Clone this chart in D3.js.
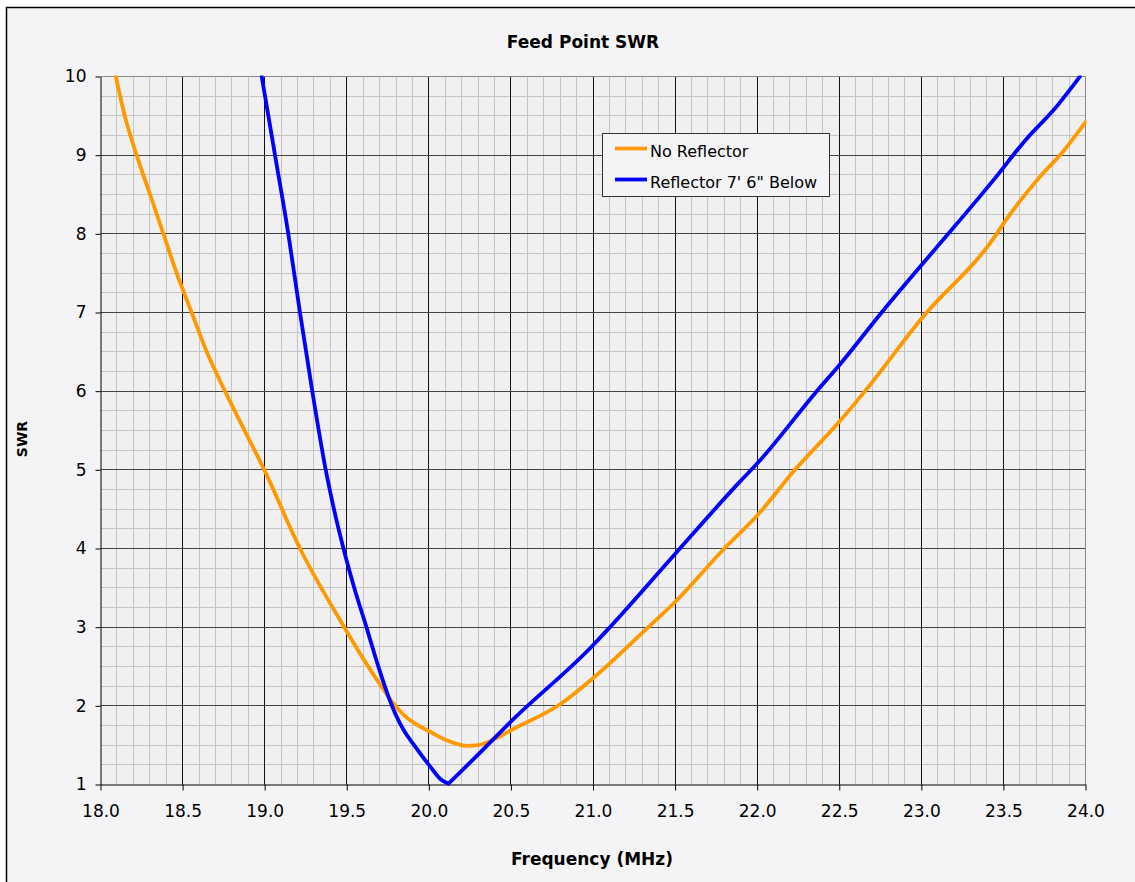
<!DOCTYPE html>
<meta charset="utf-8">
<style>
body { margin: 0; background: #fff; }
svg text { font-family: "DejaVu Sans", Verdana, sans-serif; fill: #000; }
</style>
<svg width="1135" height="882"></svg>
<script src="https://cdn.jsdelivr.net/npm/d3@7"></script>
<script>

// No Reflector (orange)
var freqNoRefl = [18.093, 18.149, 18.22, 18.302, 18.383, 18.464, 18.555, 18.647, 18.758, 18.87, 19.0,
  19.215, 19.485, 19.6, 19.713, 19.784, 19.85, 19.92, 20.007, 20.1, 20.23, 20.3, 20.413, 20.5, 20.8, 21.0,
  21.337, 21.5, 21.8, 22.0, 22.23, 22.5, 22.657, 23.0, 23.459, 23.5, 23.72, 23.865, 24.0];
var swrNoRefl = [10.0, 9.49, 9.0, 8.5, 8.0, 7.5, 7.0, 6.5, 6.0, 5.53, 4.99,
  4.0, 3.0, 2.6, 2.24, 2.03, 1.88, 1.77, 1.67, 1.57, 1.49, 1.5, 1.59, 1.69, 2.02, 2.35,
  3.0, 3.32, 4.0, 4.42, 5.0, 5.61, 6.0, 6.92, 8.0, 8.13, 8.72, 9.05, 9.42];

// Reflector 7' 6" Below (blue), dip at 20.12 MHz
var freqRefl = [18.982, 19.063, 19.144, 19.215, 19.29, 19.372, 19.42, 19.48, 19.55, 19.62, 19.66, 19.70,
  19.75, 19.80, 19.85, 19.907, 20.0, 20.07, 20.12, 20.3, 20.5, 21.0, 21.103, 21.504, 21.895, 22.0,
  22.363, 22.5, 22.758, 23.0, 23.164, 23.438, 23.642, 23.804, 23.966];
var swrRefl = [10.0, 9.0, 8.0, 7.0, 6.0, 5.0, 4.52, 4.0, 3.47, 3.0, 2.72, 2.45,
  2.14, 1.88, 1.68, 1.51, 1.25, 1.07, 1.01, 1.38, 1.8, 2.77, 3.0, 3.94, 4.85, 5.08,
  6.0, 6.33, 7.0, 7.6, 8.0, 8.68, 9.21, 9.57, 10.0];
var reflDipIndex = 18;

var seriesNames = ["No Reflector", "Reflector 7' 6\" Below"];
var seriesColors = ["#ff9900", "#0000ff"];
var xTicks = [18.0, 18.5, 19.0, 19.5, 20.0, 20.5, 21.0, 21.5, 22.0, 22.5, 23.0, 23.5, 24.0];
var yTicks = [1, 2, 3, 4, 5, 6, 7, 8, 9, 10];

var svg = d3.select("svg");

var x = d3.scaleLinear().domain([18, 24]).range([100.5, 1085.5]);
var y = d3.scaleLinear().domain([1, 10]).range([784.5, 76.5]);

function px(v) { return Math.round(x(v) - 0.5) + 0.5; }
function py(v) { return Math.round(y(v) - 0.5) + 0.5; }

// chart area
svg.append("rect")
    .attr("x", 6.5).attr("y", 7.5)
    .attr("width", 1200).attr("height", 1000)
    .attr("fill", "#f4f4f6")
    .attr("stroke", "#000")
    .attr("stroke-width", 1.5);

svg.append("rect")
    .attr("x", x(18)).attr("y", y(10))
    .attr("width", x(24) - x(18)).attr("height", y(1) - y(10))
    .attr("fill", "#f0f0f0");

// minor grid
var xMinor = d3.range(181, 240).map(function(i) { return i / 10; });
var yMinor = d3.range(5, 40).map(function(i) { return i / 4; });

svg.append("g").selectAll("line")
    .data(xMinor.filter(function(d) { return Math.abs(d * 2 - Math.round(d * 2)) > 1e-6; }))
  .enter().append("line")
    .attr("x1", px).attr("x2", px)
    .attr("y1", y(10)).attr("y2", y(1))
    .attr("stroke", "#c4c4c4");

svg.append("g").selectAll("line")
    .data(yMinor.filter(function(d) { return d % 1 !== 0; }))
  .enter().append("line")
    .attr("x1", x(18)).attr("x2", x(24))
    .attr("y1", py).attr("y2", py)
    .attr("stroke", "#c4c4c4");

// major grid
svg.append("g").selectAll("line")
    .data(xTicks.slice(1, -1))
  .enter().append("line")
    .attr("x1", px).attr("x2", px)
    .attr("y1", y(10)).attr("y2", y(1))
    .attr("stroke", "#111");

svg.append("g").selectAll("line")
    .data(yTicks.slice(1, -1))
  .enter().append("line")
    .attr("x1", x(18)).attr("x2", x(24))
    .attr("y1", py).attr("y2", py)
    .attr("stroke", "#444");

// plot border top / right
svg.append("path")
    .attr("d", "M" + x(18) + "," + py(10) + "H" + px(24) + "V" + y(1))
    .attr("fill", "none")
    .attr("stroke", "#888");

// axes
var xAxis = svg.append("g")
    .attr("transform", "translate(0," + py(1) + ")")
    .call(d3.axisBottom(x).tickValues(xTicks).tickSize(6).tickSizeOuter(0)
      .tickFormat(d3.format(".1f")));
xAxis.selectAll("text").attr("font-size", 17).attr("dy", null).attr("y", 32);

var yAxis = svg.append("g")
    .attr("transform", "translate(" + px(18) + ",0)")
    .call(d3.axisLeft(y).tickValues(yTicks).tickSize(5).tickSizeOuter(0)
      .tickFormat(d3.format("d")));
yAxis.selectAll("text").attr("font-size", 17).attr("x", -14);

svg.selectAll(".domain").attr("stroke", "#000");
svg.selectAll(".tick line").attr("stroke", "#000");
svg.selectAll(".tick text").attr("fill", "#000").attr("font-family", "DejaVu Sans, sans-serif");

// curves
svg.append("clipPath").attr("id", "plotclip")
  .append("rect")
    .attr("x", x(18)).attr("y", y(10) - 1)
    .attr("width", x(24) - x(18) + 1).attr("height", y(1) - y(10) + 2);

var line = d3.line()
    .x(function(p) { return x(p[0]); })
    .y(function(p) { return y(p[1]); })
    .curve(d3.curveMonotoneX);

var refl = d3.zip(freqRefl, swrRefl);
// blue is drawn in two pieces so the dip stays sharp
var pieces = [
  { pts: d3.zip(freqNoRefl, swrNoRefl), color: seriesColors[0] },
  { pts: refl.slice(0, reflDipIndex + 1), color: seriesColors[1] },
  { pts: refl.slice(reflDipIndex), color: seriesColors[1] }
];

svg.append("g")
    .attr("clip-path", "url(#plotclip)")
  .selectAll("path")
    .data(pieces)
  .enter().append("path")
    .attr("d", function(d) { return line(d.pts); })
    .attr("fill", "none")
    .attr("stroke", function(d) { return d.color; })
    .attr("stroke-width", 3.8)
    .attr("stroke-linejoin", "round")
    .attr("stroke-linecap", "round");

// legend
var legend = svg.append("g");
legend.append("rect")
    .attr("x", 602.5).attr("y", 133.5)
    .attr("width", 227).attr("height", 63)
    .attr("fill", "#f4f4f6")
    .attr("stroke", "#333");

legend.selectAll("line")
    .data(seriesNames)
  .enter().append("line")
    .attr("x1", 615).attr("x2", 647)
    .attr("y1", function(d, i) { return 148.5 + i * 31; })
    .attr("y2", function(d, i) { return 148.5 + i * 31; })
    .attr("stroke", function(d, i) { return seriesColors[i]; })
    .attr("stroke-width", 3.8);

legend.selectAll("text")
    .data(seriesNames)
  .enter().append("text")
    .attr("x", 650)
    .attr("y", function(d, i) { return 156.5 + i * 31; })
    .attr("font-size", 16)
    .text(function(d) { return d; });

// titles
svg.append("text")
    .attr("x", 583).attr("y", 48)
    .attr("text-anchor", "middle")
    .attr("font-size", 17)
    .attr("font-weight", "bold")
    .text("Feed Point SWR");

svg.append("text")
    .attr("x", 592).attr("y", 865)
    .attr("text-anchor", "middle")
    .attr("font-size", 17)
    .attr("font-weight", "bold")
    .text("Frequency (MHz)");

svg.append("text")
    .attr("transform", "translate(27,439) rotate(-90)")
    .attr("text-anchor", "middle")
    .attr("font-size", 14)
    .attr("font-weight", "bold")
    .text("SWR");

</script>
